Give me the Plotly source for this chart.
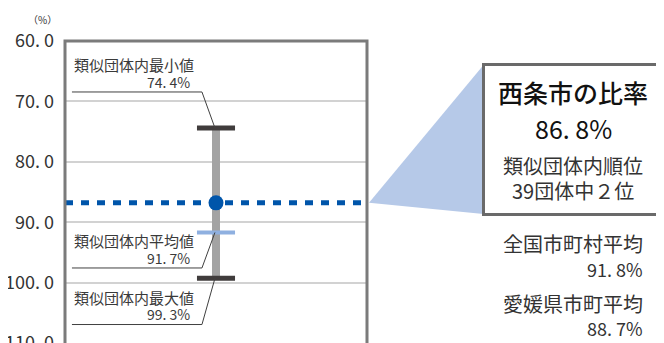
import plotly.graph_objects as go

# ---- data ----
y_ticks = [60, 70, 80, 90, 100, 110]
city_name = "西条市"
city_value = 86.8
group_min = 74.4
group_avg = 91.7
group_max = 99.3
rank = 2
group_count = 39
national_avg = 91.8
pref_avg = 88.7

FONT = "Noto Sans CJK JP"
OFF = 8  # page body margin
W, H = 664 - OFF, 343 - OFF
PLOT_L, PLOT_R, PLOT_T = 65, 367, 41  # page pixel positions
ML, MT, MB = PLOT_L - OFF, PLOT_T - OFF, 0
MR = W - (PLOT_R - OFF)
PW, PH = W - ML - MR, H - MT - MB


def PX(px):
    return (px - OFF - ML) / PW


def PY(py):
    return (H - MB - (py - OFF)) / PH


def fmt(v, pct=True):
    s = f"{v:.1f}".replace(".", ". ")
    return s + ("%" if pct else "")


fig = go.Figure()

# whisker bar
fig.add_trace(go.Scatter(x=[0, 0], y=[group_min, group_max], mode="lines",
                         line=dict(color="#a3a3a3", width=8), hoverinfo="skip"))
cap = 0.126
for v, c, w in [(group_min, "#403c3c", 5), (group_max, "#403c3c", 5), (group_avg, "#8fb0e0", 4)]:
    fig.add_trace(go.Scatter(x=[-cap, cap], y=[v, v], mode="lines",
                             line=dict(color=c, width=w), hoverinfo="skip"))

# dashed city line
fig.add_trace(go.Scatter(x=[-1, 1], y=[city_value, city_value], mode="lines",
                         line=dict(color="#0055aa", width=5, dash="8px,8px"), hoverinfo="skip"))

# leader lines + labels
labels = [
    ("類似団体内最小値", group_min, -5.96),
    ("類似団体内平均値", group_avg, 5.88),
    ("類似団体内最大値", group_max, 7.64),
]
xl, xk, xe = -0.954, -0.093, -0.007
for name, v, off in labels:
    u = v + off
    fig.add_trace(go.Scatter(x=[xe, xk, xl], y=[v, u, u], mode="lines",
                             line=dict(color="#404040", width=1), hoverinfo="skip"))
    fig.add_annotation(x=xl, y=u - 4.5, xref="x", yref="y", text=name, showarrow=False,
                       xanchor="left", yanchor="middle",
                       font=dict(family=FONT, size=15, color="#3a3a3a"))
    fig.add_annotation(x=-0.159, y=u - 1.7, xref="x", yref="y", text=fmt(v), showarrow=False,
                       xanchor="right", yanchor="middle",
                       font=dict(family=FONT, size=14, color="#3a3a3a"))

# city point
fig.add_trace(go.Scatter(x=[0], y=[city_value], mode="markers",
                         marker=dict(color="#0055aa", size=15), hoverinfo="skip"))

# triangle callout
ay = (110 - city_value) / 50
fig.add_shape(type="path", xref="paper", yref="paper",
              path=f"M {PX(369)} {ay} L {PX(483.5)} {PY(65)} L {PX(483.5)} {PY(214)} Z",
              fillcolor="#b6c9e8", line=dict(width=0), layer="above")
# box
fig.add_shape(type="rect", xref="paper", yref="paper",
              x0=PX(483.5), x1=PX(662.5), y0=PY(214.5), y1=PY(64.5),
              fillcolor="white", line=dict(color="#6a6a6a", width=3), layer="above")
# plot border
fig.add_shape(type="rect", xref="paper", yref="paper", x0=0, x1=1, y0=-0.05, y1=1,
              line=dict(color="#7b7b7b", width=3), layer="above")

cx = PX(573)
box_texts = [
    (f"{city_name}の比率", 92, 25, "#111111", 500),
    (fmt(city_value), 128, 25, "#111111", 400),
    ("類似団体内順位", 165, 20, "#333333", 400),
    (f"{group_count}団体中{chr(0xFF10 + rank)}位", 190, 20, "#333333", 400),
]
for text, py, sz, col, wt in box_texts:
    fig.add_annotation(x=cx, y=PY(py), xref="paper", yref="paper", text=text,
                       showarrow=False, xanchor="center", yanchor="middle",
                       font=dict(family=FONT, size=sz, color=col, weight=wt))

rx = PX(645)
for text, py, sz in [("全国市町村平均", 243.5, 20), (fmt(national_avg), 269, 18),
                     ("愛媛県市町平均", 303.5, 20), (fmt(pref_avg), 327.5, 18)]:
    fig.add_annotation(x=rx, y=PY(py), xref="paper", yref="paper", text=text, showarrow=False,
                       xanchor="right", yanchor="middle",
                       font=dict(family=FONT, size=sz, color="#333333"))

fig.add_annotation(x=PX(42), y=PY(19), xref="paper", yref="paper", text="（%）",
                   showarrow=False, xanchor="center", yanchor="middle",
                   font=dict(family=FONT, size=10, color="#333333"))

fig.update_layout(
    width=W, height=H, margin=dict(l=ML, r=MR, t=MT, b=MB, autoexpand=False),
    paper_bgcolor="white", plot_bgcolor="white", showlegend=False,
    xaxis=dict(range=[-1, 1], visible=False, fixedrange=True, automargin=False),
    yaxis=dict(range=[110, 60], tickvals=y_ticks, ticktext=[fmt(v, False) for v in y_ticks],
               showgrid=True, gridcolor="#d2d2d2", gridwidth=2, zeroline=False,
               showline=False, ticks="", ticklabelstandoff=10, automargin=False,
               ticklabeloverflow="allow",
               tickfont=dict(family=FONT, size=18, color="#333333")),
)

fig.write_html("out.html")
